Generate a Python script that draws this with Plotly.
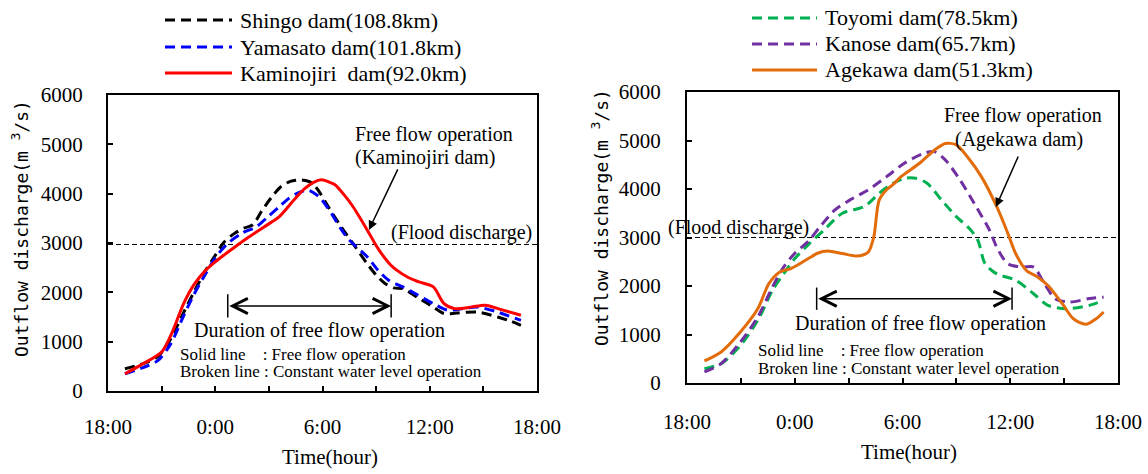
import plotly.graph_objects as go

W, H = 1148, 474

# ---------------- data (hours since 18:00) ----------------
tick_vals = [0, 6, 12, 18, 24]
tick_text = ["18:00", "0:00", "6:00", "12:00", "18:00"]
minor_step = 3
y_ticks = [0, 1000, 2000, 3000, 4000, 5000, 6000]

shingo_t = [0.95, 2.0, 2.8, 3.5, 4.2, 4.8, 5.47, 6.0, 6.5, 7.1, 7.6, 8.1, 8.6, 9.2, 9.7, 10.2,
            10.8, 11.3, 11.7, 12.3, 13.0, 13.7, 14.5, 15.0, 15.5, 16.0, 16.5, 17.3, 18.2, 18.8,
            19.5, 20.7, 21.8, 22.5, 23.1]
shingo_q = [450, 560, 700, 1050, 1570, 2000, 2450, 2750, 3020, 3200, 3300, 3370, 3650, 3950, 4150, 4250,
            4280, 4240, 4100, 3750, 3350, 2990, 2580, 2350, 2180, 2090, 2075, 1900, 1700, 1570,
            1580, 1600, 1500, 1420, 1330]

yamasato_t = [0.95, 2.0, 2.8, 3.5, 4.2, 4.8, 5.47, 6.0, 6.7, 7.5, 8.3, 9.0, 9.6, 10.1, 10.6, 11.2,
              11.8, 12.5, 13.0, 13.5, 14.5, 15.1, 15.7, 16.5, 17.3, 18.2, 19.0, 20.0, 20.7, 21.8, 23.1]
yamasato_q = [350, 480, 620, 950, 1500, 1950, 2380, 2700, 2990, 3200, 3330, 3550, 3740, 3900, 4010, 4070,
              3940, 3600, 3300, 3060, 2720, 2450, 2245, 2110, 1950, 1770, 1640, 1680, 1700, 1600, 1430]

kaminojiri_t = [0.95, 2.0, 3.0, 3.6, 4.23, 4.8, 5.47, 6.0, 6.5, 7.1, 7.8, 8.75, 9.6, 10.4, 11.0, 11.5,
                11.94, 12.4, 12.7, 13.2, 13.7, 14.5, 15.0, 15.3, 15.8, 16.15, 16.8, 17.4, 18.2, 18.8,
                19.4, 20.3, 21.1, 22.0, 23.1]
kaminojiri_q = [350, 560, 790, 1200, 1770, 2150, 2450, 2620, 2760, 2920, 3100, 3330, 3540, 3870, 4100, 4230,
                4280, 4230, 4180, 3980, 3740, 3265, 2950, 2785, 2560, 2450, 2300, 2210, 2110, 1770,
                1670, 1700, 1740, 1650, 1535]

toyomi_t = [0.97, 1.9, 2.9, 3.94, 4.76, 5.38, 5.99, 6.8, 7.63, 8.65, 9.88, 10.7, 11.3, 12.1, 12.75,
            13.37, 14.18, 15.0, 15.8, 16.2, 16.6, 17.25, 18.3, 19.3, 20.1, 21.1, 22.4, 23.2]
toyomi_q = [295, 400, 740, 1290, 1910, 2250, 2560, 2870, 3155, 3500, 3640, 3910, 4080, 4220, 4220,
            4120, 3770, 3430, 3155, 2940, 2460, 2250, 2120, 1840, 1600, 1530, 1600, 1700]

kanose_t = [0.97, 1.9, 2.9, 3.94, 4.76, 5.38, 5.99, 6.8, 7.4, 8.24, 9.06, 10.08, 11.1, 12.1, 13.15,
            13.77, 14.38, 15.2, 16.0, 16.84, 17.25, 17.86, 18.68, 19.3, 19.9, 20.5, 21.3, 22.4, 23.2]
kanose_q = [230, 400, 810, 1360, 1980, 2390, 2670, 2940, 3220, 3570, 3770, 3980, 4250, 4530, 4730,
            4770, 4600, 4190, 3700, 3155, 2800, 2460, 2390, 2390, 2050, 1740, 1670, 1740, 1770]

agekawa_t = [0.97, 1.9, 2.9, 3.94, 4.56, 5.17, 5.78, 6.6, 7.3, 7.83, 8.64, 9.4, 9.8, 10.1, 10.4, 10.7,
             11.1, 11.5, 11.9, 12.95, 13.77, 14.38, 15.0, 15.6, 16.4, 17.25, 17.86, 18.3, 18.9, 19.5,
             20.1, 20.9, 21.5, 22.2, 22.8, 23.2]
agekawa_q = [454, 640, 1020, 1530, 2050, 2290, 2360, 2530, 2680, 2720, 2670, 2620, 2640, 2700, 3010, 3770,
             3980, 4100, 4250, 4530, 4800, 4940, 4910, 4670, 4250, 3635, 3090, 2670, 2320, 2190,
             2010, 1635, 1330, 1210, 1330, 1464]

flood_left = 2970
flood_right = 3000

# free-flow durations (hours since 18:00) and arrow level
dur_left = (6.7, 15.84, 1724)
dur_right = (7.22, 18.1, 1738)

SERIF = "Liberation Serif, Times New Roman, Times, serif"
MONO = "DejaVu Sans Mono, monospace"
DASH = "10px,6px"


def P(x, y):
    return x / W, 1 - y / H


fig = go.Figure()

series = [
    ("Shingo dam(108.8km)", shingo_t, shingo_q, "#000000", DASH, "x", "y"),
    ("Yamasato dam(101.8km)", yamasato_t, yamasato_q, "#0000FF", DASH, "x", "y"),
    ("Kaminojiri  dam(92.0km)", kaminojiri_t, kaminojiri_q, "#FF0000", "solid", "x", "y"),
    ("Toyomi dam(78.5km)", toyomi_t, toyomi_q, "#00B050", DASH, "x2", "y2"),
    ("Kanose dam(65.7km)", kanose_t, kanose_q, "#7030A0", DASH, "x2", "y2"),
    ("Agekawa dam(51.3km)", agekawa_t, agekawa_q, "#E36C0A", "solid", "x2", "y2"),
]

# flood discharge lines
fig.add_trace(go.Scatter(x=[0, 24], y=[flood_left] * 2, mode="lines", xaxis="x", yaxis="y",
                         line=dict(color="black", width=1, dash="5px,3px"), showlegend=False,
                         hoverinfo="skip"))
fig.add_trace(go.Scatter(x=[0, 24], y=[flood_right] * 2, mode="lines", xaxis="x2", yaxis="y2",
                         line=dict(color="black", width=1, dash="5px,3px"), showlegend=False,
                         hoverinfo="skip"))

for name, t, q, col, dash, xa, ya in series:
    fig.add_trace(go.Scatter(x=t, y=q, mode="lines", name=name, xaxis=xa, yaxis=ya,
                             line=dict(color=col, width=3, dash=dash, shape="spline", smoothing=0.8),
                             showlegend=False))

axis_common = dict(showline=True, linecolor="black", linewidth=2, mirror=True, showgrid=False,
                   zeroline=False, ticks="inside", ticklen=5, tickwidth=1.5, tickcolor="black",
                   automargin=False,
                   tickfont=dict(family=SERIF, size=21, color="black"))
minor_x = dict(dtick=minor_step, tick0=0, ticks="inside", ticklen=5, tickwidth=1.5,
               tickcolor="black", showgrid=False)

fig.update_layout(
    width=W, height=H, margin=dict(l=0, r=0, t=0, b=0, autoexpand=False),
    paper_bgcolor="white", plot_bgcolor="white", showlegend=False,
    font=dict(family=SERIF, color="black"),
    xaxis=dict(domain=[108 / W, 537 / W], range=[0, 24], tickvals=tick_vals, ticktext=tick_text,
               anchor="y", ticklabelstandoff=16, minor=minor_x, **axis_common),
    yaxis=dict(domain=[1 - 391 / H, 1 - 95 / H], range=[0, 6000], tickvals=y_ticks,
               anchor="x", ticklabelstandoff=19, **axis_common),
    xaxis2=dict(domain=[687 / W, 1118 / W], range=[0, 24], tickvals=tick_vals, ticktext=tick_text,
                anchor="y2", ticklabelstandoff=19, minor=minor_x, **axis_common),
    yaxis2=dict(domain=[1 - 383 / H, 1 - 92 / H], range=[0, 6000], tickvals=y_ticks,
                anchor="x2", ticklabelstandoff=20, **axis_common),
)

shapes = []
ann = []


def text(x, y, s, size=20, xanchor="center", family=SERIF, angle=0):
    px, py = P(x, y)
    ann.append(dict(x=px, y=py, xref="paper", yref="paper", text=s, showarrow=False,
                    xanchor=xanchor, yanchor="middle", textangle=angle,
                    font=dict(family=family, size=size, color="black")))


# manual legends
leg_left = [(20, 0), (47, 1), (73, 2)]
leg_right = [(18, 3), (44, 4), (70, 5)]
for rows, x0, x1, xt in ((leg_left, 165, 232, 238), (leg_right, 752, 817, 823)):
    for yy, i in rows:
        name, _, _, col, dash, _, _ = series[i]
        a, b = P(x0, yy)
        c, _ = P(x1, yy)
        shapes.append(dict(type="line", xref="paper", yref="paper", x0=a, x1=c, y0=b, y1=b,
                           line=dict(color=col, width=3, dash=dash)))
        text(xt, yy, name, size=22, xanchor="left")

# axis titles
text(330, 457, "Time(hour)", size=21)
text(909, 452, "Time(hour)", size=21)
text(20, 229, "Outflow discharge(m <sup>3</sup>/s)", size=18, family=MONO, angle=-90)
text(600, 218, "Outflow discharge(m <sup>3</sup>/s)", size=18, family=MONO, angle=-90)

# left annotations
text(353, 134, "Free flow operation", xanchor="left")
text(353, 157, "(Kaminojiri dam)", xanchor="left")
text(461, 232, "(Flood discharge)")
text(319, 330, "Duration of free flow operation")
text(178, 354, "Solid line    : Free flow operation", size=17, xanchor="left")
text(178, 371, "Broken line : Constant water level operation", size=17, xanchor="left")

# right annotations
text(1023, 115, "Free flow operation")
text(1019, 140, "(Agekawa dam)")
text(738, 227, "(Flood discharge)")
text(920, 323, "Duration of free flow operation")
text(756, 350, "Solid line    : Free flow operation", size=17, xanchor="left")
text(756, 368, "Broken line : Constant water level operation", size=17, xanchor="left")

# free flow pointer arrows (head on the solid curve)
ann.append(dict(x=14.6, y=3266, xref="x", yref="y", ax=29.5, ay=-62, text="", showarrow=True,
                arrowhead=2, arrowsize=1.2, arrowwidth=1.5, arrowcolor="black"))
ann.append(dict(x=17.2, y=3629, xref="x2", yref="y2", ax=23, ay=-52, text="", showarrow=True,
                arrowhead=2, arrowsize=1.2, arrowwidth=1.5, arrowcolor="black"))

# duration arrows
for (s, e, lvl), xr, yr, half in ((dur_left, "x", "y", 235), (dur_right, "x2", "y2", 230)):
    ann.append(dict(x=e, y=lvl, ax=s, ay=lvl, xref=xr, yref=yr, axref=xr, ayref=yr, text="",
                    showarrow=True, arrowside="end+start", arrowhead=5, arrowsize=2,
                    arrowwidth=1.5, arrowcolor="black"))
    for xv in (s, e):
        shapes.append(dict(type="line", xref=xr, yref=yr, x0=xv, x1=xv, y0=lvl - half,
                           y1=lvl + half, line=dict(color="black", width=1.5)))

fig.update_layout(shapes=shapes, annotations=ann)
fig.write_html("out.html", config={"displayModeBar": False},
               post_script="document.body.style.margin='0';document.body.style.overflow='hidden';")
